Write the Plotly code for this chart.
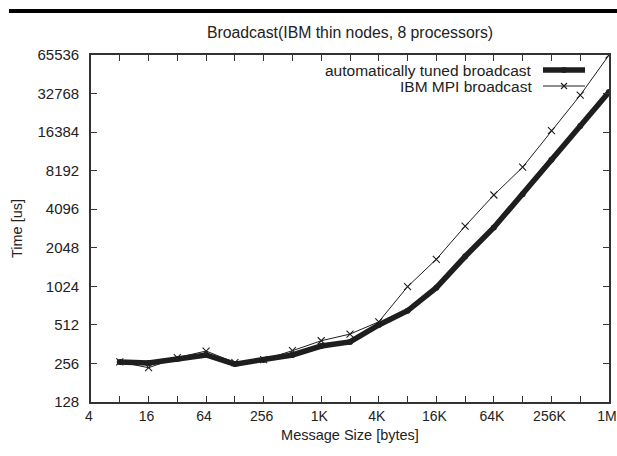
import plotly.graph_objects as go

# ---- data ----
sizes = [8, 16, 32, 64, 128, 256, 512, 1024, 2048, 4096, 8192, 16384,
         32768, 65536, 131072, 262144, 524288, 1048576]
tuned = [263, 258, 277, 298, 253, 272, 298, 350, 377, 511, 660, 1000,
         1750, 2950, 5370, 9950, 18300, 33700]
ibm = [263, 237, 284, 320, 260, 274, 322, 385, 434, 541, 1018, 1665,
       3020, 5290, 8720, 16800, 31800, 65536]

x_tickvals = [2 ** k for k in range(2, 21)]
x_ticktext = ["4", "", "16", "", "64", "", "256", "", "1K", "", "4K", "",
              "16K", "", "64K", "", "256K", "", "1M"]
y_tickvals = [2 ** k for k in range(7, 17)]
y_ticktext = [str(v) for v in y_tickvals]

series_names = ["automatically tuned broadcast", "IBM MPI broadcast"]
title_text = "Broadcast(IBM thin nodes, 8 processors)"

FONT = "Liberation Sans, Arial, Helvetica, sans-serif"
INK = "#1e1e1e"

fig = go.Figure()
fig.add_trace(go.Scatter(
    x=sizes, y=tuned, mode="lines+markers", name=series_names[0],
    line=dict(color=INK, width=5.5),
    marker=dict(symbol="circle", size=6, color=INK),
    showlegend=False))
fig.add_trace(go.Scatter(
    x=sizes, y=ibm, mode="lines+markers", name=series_names[1],
    line=dict(color=INK, width=1),
    marker=dict(symbol="x-thin", size=7, line=dict(color=INK, width=1.1)),
    showlegend=False))

L, R, T, B = 91, 8, 55, 54
W, H = 617, 456
pw, ph = W - L - R, H - T - B

def px_x(px):
    return (px - L) / pw

def px_y(py):
    return 1 - (py - T) / ph

axis_common = dict(
    type="log", showgrid=False, zeroline=False,
    showline=True, linecolor="#333", linewidth=1.6, mirror="ticks",
    ticks="inside", ticklen=6, tickwidth=1, tickcolor="#333",
    ticklabeloverflow="allow", automargin=False,
)

fig.update_layout(
    width=W, height=H,
    margin=dict(l=L, r=R, t=T, b=B, pad=0, autoexpand=False),
    paper_bgcolor="white", plot_bgcolor="white",
    font=dict(family=FONT, color="#222"),
    title=dict(text=title_text, x=350 / W, xanchor="center",
               y=1 - 32 / H, yanchor="middle",
               font=dict(family=FONT, size=15.8, color="#222")),
    xaxis=dict(**axis_common, range=[0.60206, 6.0206],
               tickvals=x_tickvals, ticktext=x_ticktext,
               tickfont=dict(family=FONT, size=14, color="#222"),
               ticklabelstandoff=0, ticklabelshift=-2,
               title=dict(text="Message Size [bytes]", standoff=7,
                          font=dict(family=FONT, size=14.5, color="#222"))),
    yaxis=dict(**axis_common, range=[2.10721, 4.81648],
               tickvals=y_tickvals, ticktext=y_ticktext,
               tickfont=dict(family=FONT, size=15, color="#222"),
               ticklabelstandoff=7,
               title=dict(text="Time [us]", standoff=11,
                          font=dict(family=FONT, size=14.5, color="#222"))),
    showlegend=False,
)

# legend (gnuplot style: text on left, sample on right)
rows = [70, 86]
for i, name in enumerate(series_names):
    fig.add_annotation(x=px_x(534), y=px_y(rows[i]), xref="paper", yref="paper",
                       text=name, showarrow=False, xanchor="right", yanchor="middle",
                       font=dict(family=FONT, size=15.5, color="#222"))
fig.add_shape(type="line", xref="paper", yref="paper",
              x0=px_x(543), x1=px_x(585), y0=px_y(rows[0]), y1=px_y(rows[0]),
              line=dict(color=INK, width=5.5))
fig.add_shape(type="circle", xref="paper", yref="paper",
              x0=px_x(561), x1=px_x(567), y0=px_y(rows[0] - 3), y1=px_y(rows[0] + 3),
              line=dict(color=INK, width=0), fillcolor=INK)
fig.add_shape(type="line", xref="paper", yref="paper",
              x0=px_x(543), x1=px_x(585), y0=px_y(rows[1]), y1=px_y(rows[1]),
              line=dict(color=INK, width=1))
fig.add_shape(type="line", xref="paper", yref="paper",
              x0=px_x(561), x1=px_x(567), y0=px_y(rows[1] - 3), y1=px_y(rows[1] + 3),
              line=dict(color=INK, width=1.1))
fig.add_shape(type="line", xref="paper", yref="paper",
              x0=px_x(561), x1=px_x(567), y0=px_y(rows[1] + 3), y1=px_y(rows[1] - 3),
              line=dict(color=INK, width=1.1))

# top page rule
fig.add_shape(type="line", xref="paper", yref="paper",
              x0=px_x(9), x1=px_x(617), y0=px_y(11), y1=px_y(11),
              line=dict(color="black", width=4))

fig.write_html("out.html")
